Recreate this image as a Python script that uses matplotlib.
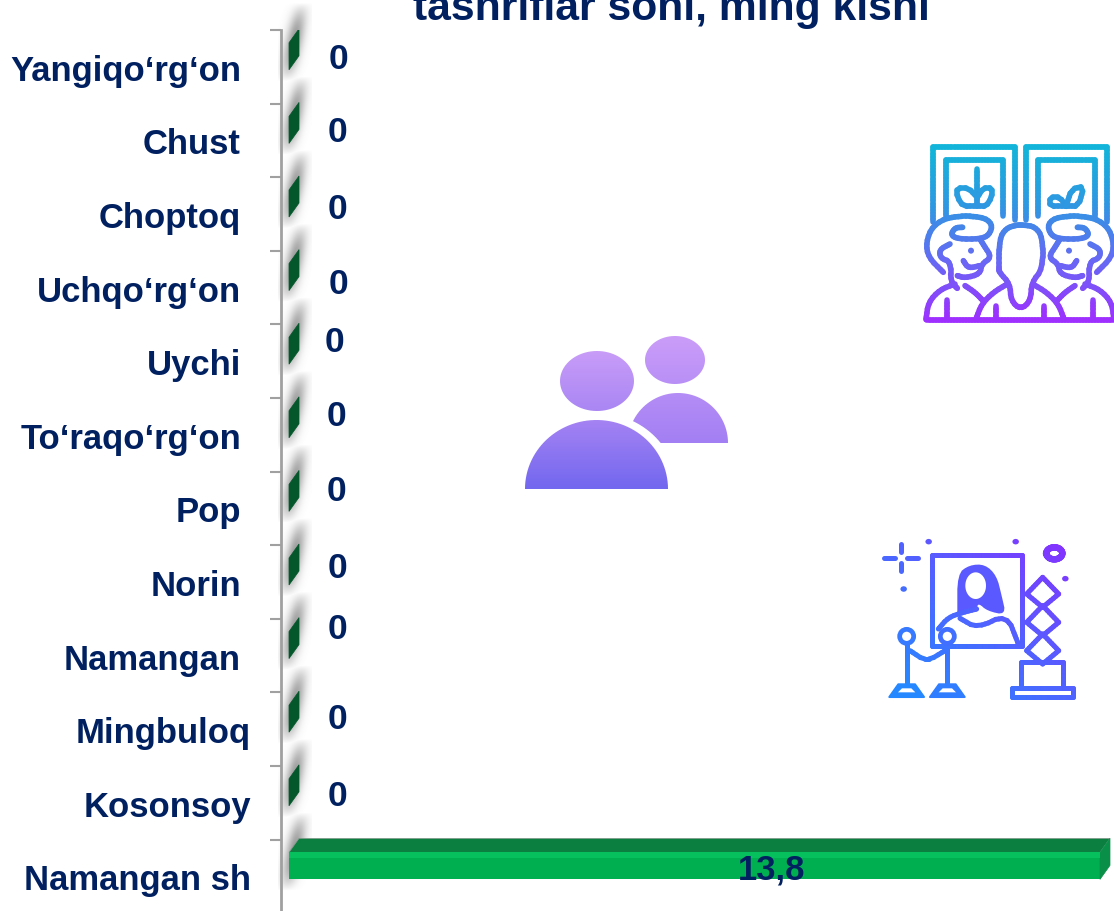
import numpy as np
import matplotlib
matplotlib.use("Agg")
import matplotlib.pyplot as plt
from matplotlib.collections import LineCollection
from matplotlib.colors import LinearSegmentedColormap
from matplotlib.patches import Polygon, Ellipse, PathPatch
from matplotlib.path import Path

# ---------- data ----------
districts = ["Yangiqo‘rg‘on", "Chust", "Choptoq", "Uchqo‘rg‘on", "Uychi", "To‘raqo‘rg‘on",
             "Pop", "Norin", "Namangan", "Mingbuloq", "Kosonsoy", "Namangan sh"]
visits = [0, 0, 0, 0, 0, 0, 0, 0, 0, 0, 0, 13.8]
title_text = "tashriflar soni, ming kishi"

# hand placement of the labels, in pixels relative to their row
name_dx = [0, 0, 0, 0, 0, 0, 0, 0, 0, 10, 10, 10]
zero_dx = [1, 0, 0, 1, -3, -1, -1, 0, 0, 0, 0]
zero_dy = [-11, -11, -8, -7, -22, -22, -20, -17, -30, -13, -10]

W, H = 1114, 912
NAVY = "#002060"
FONT = "Liberation Sans"
PITCH = 73.6
TOP = 31.0
X0 = 289.0
PX_PER_UNIT = (1100 - X0) / 13.8
AX_LEFT = 281.0

fig = plt.figure(figsize=(W / 100, H / 100), dpi=100, facecolor="white")

# background layer in pixel coordinates (shadows, icons, title)
bg = fig.add_axes([0, 0, 1, 1], zorder=0)
bg.set_xlim(0, W)
bg.set_ylim(H, 0)
bg.axis("off")

# chart layer
ax = fig.add_axes([AX_LEFT / W, 0, (W - AX_LEFT) / W, (H - TOP) / H], zorder=1)
ax.patch.set_alpha(0)
ax.set_xlim((AX_LEFT - X0) / PX_PER_UNIT, (W - X0) / PX_PER_UNIT)
ax.set_ylim((H - TOP) / PITCH - 0.5, -0.5)
for s in ("top", "right", "bottom"):
    ax.spines[s].set_visible(False)
ax.spines["left"].set_color("#a0a0a0")
ax.spines["left"].set_linewidth(2.0)
ax.set_xticks([])
ypos = np.arange(len(districts))
ax.set_yticks(ypos - 0.5)
ax.set_yticklabels([])
ax.tick_params(axis="y", length=8, width=1.5, color="#a0a0a0")

# ---------- wall shadows ----------
xx, yy = np.meshgrid(np.arange(278, 312) + 0.5, np.arange(H) + 0.5)
alpha = np.zeros_like(xx)
for i in ypos:
    t = TOP + PITCH * i
    xc = 293.5 - (yy - (t + 15)) * 0.2
    u = np.clip((yy - (t - 27)) / 78, 0, 1)
    a = np.exp(-((xx - xc) / 8.5) ** 2) * np.sin(np.pi * u) ** 0.9
    alpha = np.maximum(alpha, a)
rgba = np.ones(xx.shape + (4,))
rgba[..., :3] = 0.5
rgba[..., 3] = alpha * 0.8
bg.imshow(rgba, extent=(278, 312, H, 0), aspect="auto", zorder=1, interpolation="bilinear")
bg.set_xlim(0, W)
bg.set_ylim(H, 0)

# ---------- 3D bars ----------
BAR_H = 27 / PITCH
BAR_OFF = -10.5 / PITCH
DX = 10 / PX_PER_UNIT
DY = 14 / PITCH
for i, (name, v) in enumerate(zip(districts, visits)):
    yc = i + BAR_OFF
    top, bot = yc - BAR_H / 2, yc + BAR_H / 2
    if v == 0:
        ax.add_patch(Polygon([(0, bot), (0, top), (DX, top - DY), (DX, bot - DY)],
                             closed=True, fc="#04562b", ec="#04562b", lw=0.5, zorder=3))
    else:
        ax.barh(yc, v, height=BAR_H, color="#00b050", zorder=3)
        ax.barh(top + 0.035, v, height=0.07, color="#05c05c", zorder=4)
        ax.barh(bot - 0.006, v, height=0.012, color="#0a8a44", zorder=4)
        ax.add_patch(Polygon([(0, top), (DX, top - DY), (v + DX, top - DY), (v, top)],
                             closed=True, fc="#0a7f3f", ec="#8a9a90", lw=0.5, zorder=3))
        ax.add_patch(Polygon([(v, top), (v + DX, top - DY), (v + DX, bot - DY), (v, bot)],
                             closed=True, fc="#0a8f48", ec="#0a8f48", lw=0.5, zorder=3))

# ---------- labels ----------
for i, name in enumerate(districts):
    ax.annotate(name, xy=(0, i), xycoords=("axes fraction", "data"),
                xytext=(241 - AX_LEFT + name_dx[i], -13), textcoords="offset pixels",
                ha="right", va="baseline", fontsize=24.9, fontweight="bold",
                family=FONT, color=NAVY, annotation_clip=False)
for i, v in enumerate(visits):
    text = f"{v:g}".replace(".", ",")
    if v == 0:
        ax.annotate(text, xy=(0, i), xytext=(337.5 - X0 + zero_dx[i], -(zero_dy[i] + 12)),
                    textcoords="offset pixels", ha="center", va="baseline",
                    fontsize=25.5, fontweight="bold", family=FONT, color=NAVY, zorder=6)
    else:
        ax.annotate(text, xy=(v / 2, i), xytext=(77, -2), textcoords="offset pixels",
                    ha="center", va="baseline", fontsize=24.9, fontweight="bold",
                    family=FONT, color=NAVY, zorder=6)

bg.text(671, 20, title_text, ha="center", va="baseline", fontsize=30.7,
        fontweight="bold", family=FONT, color=NAVY, zorder=5, clip_on=False)


# ---------- icon helpers ----------
def chaikin(pts, n=2):
    p = np.asarray(pts, float)
    for _ in range(n):
        q = 0.75 * p[:-1] + 0.25 * p[1:]
        r = 0.25 * p[:-1] + 0.75 * p[1:]
        p = np.vstack([p[:1], np.column_stack([q, r]).reshape(-1, 2), p[-1:]])
    return p


def gradient_cmap(colors):
    return LinearSegmentedColormap.from_list("g", colors)


def gline(pts, lw, colorfn, smooth=0):
    p = chaikin(pts, smooth) if smooth else np.asarray(pts, float)
    segs, cols = [], []
    for a, b in zip(p[:-1], p[1:]):
        n = max(1, int(np.hypot(*(b - a)) / 3))
        ts = np.linspace(0, 1, n + 1)
        for t0, t1 in zip(ts[:-1], ts[1:]):
            s0, s1 = a + (b - a) * t0, a + (b - a) * t1
            segs.append([s0, s1])
            cols.append(colorfn((s0 + s1) / 2))
    bg.add_collection(LineCollection(segs, colors=cols, linewidths=lw, capstyle="round", zorder=8))


def gradient_clip(path, extent, colors, z=7):
    grad = np.linspace(0, 1, 256).reshape(-1, 1)
    im = bg.imshow(grad, extent=extent, cmap=gradient_cmap(colors), aspect="auto", zorder=z)
    patch = PathPatch(path, transform=bg.transData, fc="none", ec="none")
    im.set_clip_path(patch)
    bg.set_xlim(0, W)
    bg.set_ylim(H, 0)


def ell(cx, cy, rx, ry):
    th = np.linspace(0, 2 * np.pi, 80)
    return np.column_stack([cx + rx * np.cos(th), cy + ry * np.sin(th)])


def dome(cx, base, rx, ry):
    th = np.linspace(np.pi, 2 * np.pi, 60)
    return np.column_stack([cx + rx * np.cos(th), base + ry * np.sin(th)])


def compound(polys):
    verts, codes = [], []
    for p in polys:
        verts.extend(p.tolist())
        verts.append(p[0].tolist())
        codes.extend([Path.MOVETO] + [Path.LINETO] * (len(p) - 1) + [Path.CLOSEPOLY])
    return Path(verts, codes)


# ---------- icon 1: two people ----------
gradient_clip(compound([ell(675, 361, 30, 24), dome(678, 444, 50, 50)]), (620, 735, 444, 337),
              ["#cb9df9", "#a27ff3"], z=6)
bg.add_patch(Ellipse((597, 382), 84, 70, fc="white", ec="none", zorder=6.5))
bg.add_patch(Polygon(dome(597, 490, 80, 76), closed=True, fc="white", ec="none", zorder=6.5))
gradient_clip(compound([ell(597, 382, 37, 30), dome(596.5, 490, 71.5, 69)]), (520, 672, 490, 352),
              ["#c89cf8", "#a583f3", "#7267ef"], z=7)

# ---------- icon 2: three visitors ----------
cm2 = gradient_cmap(["#12b5d9", "#2f97e2", "#6a66f5", "#a02dff"])


def col2(p):
    return cm2(np.clip((p[1] - 148) / (323 - 148), 0, 1))


def z2(pts, mirror=False):
    a = np.asarray(pts, float)
    if mirror:
        a = a * [-1, 1] + [720, 0]
    return a / 3 + [900, 130]


LW2 = 4.0
for pts in [[(100, 280), (100, 55), (345, 55), (345, 272)],
            [(137, 265), (137, 92), (308, 92), (308, 262)],
            [(378, 272), (378, 55), (622, 55), (622, 280)],
            [(415, 262), (415, 92), (585, 92), (585, 265)],
            [(232, 120), (232, 232)],
            [(80, 572), (640, 572)]]:
    gline(z2(pts), LW2, col2)
# plants
for pts in [[(232, 232), (190, 232), (172, 205), (172, 177), (205, 177), (232, 205)],
            [(232, 232), (258, 232), (275, 205), (275, 177), (250, 177), (232, 205)],
            [(498, 232), (450, 232), (450, 205), (480, 205), (498, 232)],
            [(498, 232), (535, 232), (552, 172), (515, 180), (498, 232)]]:
    gline(z2(pts), LW2, col2, smooth=1)

for mirror in (False, True):
    for pts in [[(130, 430), (85, 385), (78, 340), (98, 290), (150, 262), (245, 262), (278, 285),
                 (268, 318), (240, 330), (175, 330), (152, 318), (165, 296), (188, 295)],
                [(150, 345), (118, 362), (122, 388), (152, 398), (152, 458), (172, 478)],
                [(240, 330), (252, 350), (275, 385), (245, 405), (240, 435), (195, 447), (172, 440)],
                [(190, 395), (205, 418), (240, 410)],
                [(78, 572), (85, 520), (120, 482), (165, 465)],
                [(195, 470), (225, 490), (252, 518)],
                [(228, 570), (245, 525), (280, 490), (322, 465)]]:
        gline(z2(pts, mirror), LW2, col2, smooth=2)
    for pts in [[(140, 512), (140, 570)], [(288, 530), (288, 570)]]:
        gline(z2(pts, mirror), LW2, col2)
    d = z2([(213, 365)], mirror)[0]
    bg.add_patch(Ellipse(d, 6, 6, fc=col2(d), ec="none", zorder=8))
gline(z2([(298, 420), (298, 330), (318, 298), (350, 288), (370, 288), (405, 293), (428, 325),
          (428, 420), (395, 460), (392, 515), (362, 542), (333, 515), (330, 465), (298, 430), (298, 420)]),
      LW2, col2, smooth=2)

# ---------- icon 3: gallery ----------
cm3 = gradient_cmap(["#1e8fff", "#4f63ff", "#8a2dff"])


def col3(p):
    t = ((p[0] - 885) / 190 + (700 - p[1]) / 160) / 2
    return cm3(np.clip(t, 0, 1))


def z3(pts):
    return np.asarray(pts, float) / 3 + [870, 530]


LW3 = 3.6
for pts in [[(185, 78), (455, 78), (455, 352), (185, 352), (185, 78)],
            [(92, 45), (92, 70)], [(92, 102), (92, 127)], [(42, 86), (75, 86)], [(112, 86), (145, 86)],
            [(452, 400), (580, 400), (580, 478), (452, 478), (452, 400)],
            [(425, 478), (608, 478), (608, 505), (425, 505), (425, 478)]]:
    gline(z3(pts), LW3, col3)
for x, y in [(518, 195), (518, 280), (518, 365)]:
    gline(z3([(x, y - 50), (x + 48, y), (x, y + 40), (x - 48, y), (x, y - 50)]), LW3, col3)
for c in [(176, 38), (437, 38), (586, 149), (101, 180)]:
    p = z3([c])[0]
    bg.add_patch(Ellipse(p, 6.5, 5.5, fc=col3(p), ec="none", zorder=8))
gline(z3(ell(553, 73, 24, 18)), 4.6, col3)

hair = chaikin(z3([(262, 255), (262, 135), (298, 108), (345, 106), (380, 140), (395, 200), (408, 258),
                   (352, 246), (325, 222), (320, 240), (262, 255)]), 2)
face = z3(ell(317, 170, 31, 40))
p = z3([(320, 170)])[0]
bg.add_patch(Polygon(hair, closed=True, fc=col3(p), ec="none", zorder=8))
bg.add_patch(Polygon(face, closed=True, fc="white", ec="none", zorder=8.1))
for pts in [[(205, 300), (235, 265), (280, 250), (320, 240)],
            [(270, 268), (322, 298), (410, 255), (445, 345)]]:
    gline(z3(pts), LW3, col3, smooth=2)

for cx in (110, 232):
    gline(z3([(cx, 345), (cx, 470)]), LW3, col3)
gline(z3([(120, 365), (170, 398), (225, 365)]), LW3, col3, smooth=2)
for cx in (110, 232):
    p = z3([(cx, 322)])[0]
    bg.add_patch(Ellipse(p, 14, 14, fc="white", ec=col3(p), lw=3.4, zorder=9))
for cx in (110, 232):
    foot = z3([(cx - 52, 504), (cx - 25, 466), (cx + 25, 466), (cx + 52, 504)])
    inner = z3([(cx - 26, 490), (cx - 14, 478), (cx + 14, 478), (cx + 26, 490)])
    c = col3(foot.mean(axis=0))
    bg.add_patch(Polygon(foot, closed=True, fc=c, ec=c, lw=1.5, joinstyle="round", zorder=9))
    bg.add_patch(Polygon(inner, closed=True, fc="white", ec="none", zorder=9.1))

fig.savefig("out.png", dpi=100, facecolor="white")
